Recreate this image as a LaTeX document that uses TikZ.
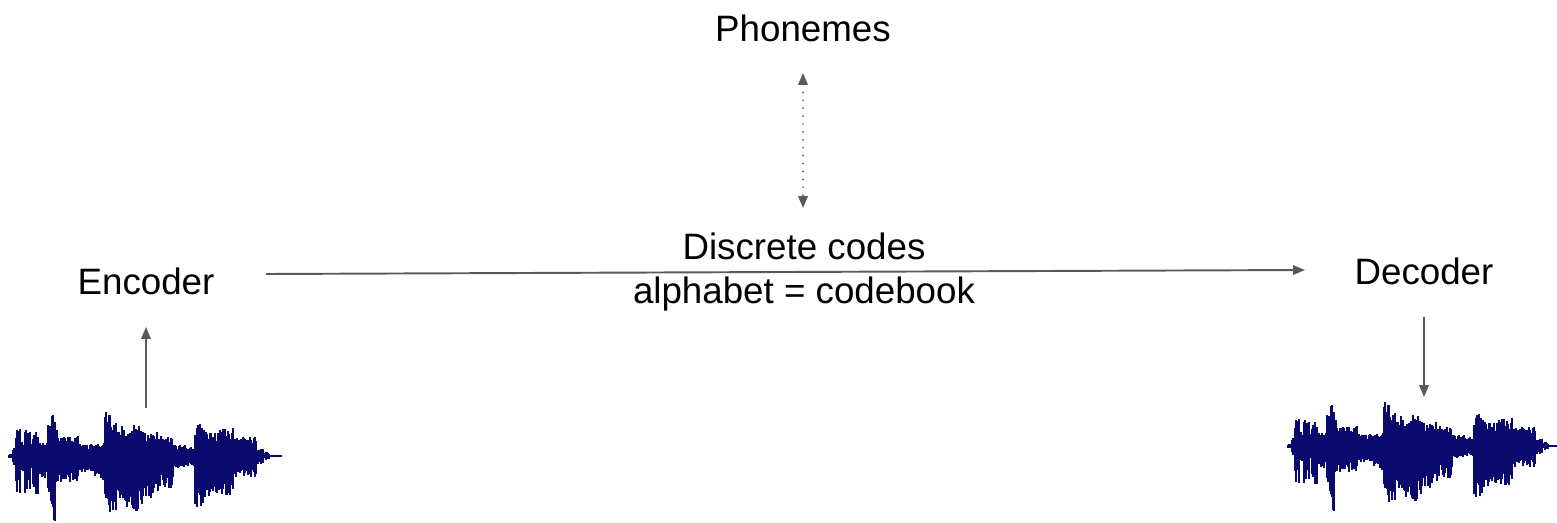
\documentclass[tikz,border=0pt]{standalone}
\usepackage{fontspec}
\setmainfont{Liberation Sans}
\usetikzlibrary{arrows.meta}
\definecolor{arrowgray}{RGB}{90,90,90}
\definecolor{wavenavy}{RGB}{10,10,110}
\tikzset{
  lbl/.style={font=\fontsize{20.9}{25.1}\selectfont, text=black, inner sep=0pt, align=center},
  conn/.style={draw=arrowgray, line width=1.1pt, -{Triangle[length=6.8pt,width=5.4pt]}},
  dotconn/.style={draw=arrowgray, line width=1.1pt, line cap=round, dash pattern=on 0pt off 4.5pt,
     {Triangle[length=6.8pt,width=5.4pt]}-{Triangle[length=6.8pt,width=5.4pt]}},
  wavecol/.style={draw=wavenavy, line width=0.8pt},
  waveform/.pic={
    \pgfmathsetseed{7}
    \draw[wavenavy, line width=0.8pt] (0,0) -- (272,0);
    \foreach \a/\b/\u/\d in {0/4/2/2,4/7/9/10,7/11/28/37,11/16/15/15,16/21/26/39,21/24/12/15,
        24/29/28/40,29/39/15/22,39/43/32/48,43/46/41/66,46/49/27/38,49/69/20/27,69/71/10/10,
        71/86/12/16,86/96/14/27,96/101/44/58,101/107/38/60,107/134/32/58,134/150/24/42,
        150/164/20/32,164/177/11/13,177/186/9/11,186/194/36/52,194/224/28/42,224/247/19/22,
        247/254/7/8,254/260/4/4,260/272/1/1}{
      \foreach \x in {\a,...,\b}{
        \draw[wavecol] (\x,{-\u*(0.55+0.45*rnd)}) -- (\x,{\d*(0.55+0.45*rnd)});
      }
    }
  }
}
\begin{document}
\begin{tikzpicture}[x=0.02cm,y=-0.02cm]
\useasboundingbox (0,0) rectangle (1557,523);
\node[lbl] (phon) at (803,28) {Phonemes};
\node[lbl] (codes) at (804,272) {Discrete codes\\alphabet = codebook};
\node[lbl] (enc) at (146,281) {Encoder};
\node[lbl] (dec) at (1424,271) {Decoder};
\pic (wavein) at (9,456) {waveform};
\pic (waveout) at (1288,446) {waveform};
\coordinate (wl) at (146,408);
\coordinate (wr) at (1424,397);
\coordinate (h1) at (266,274);
\coordinate (h2) at (1305,270);
\coordinate (p1) at (803,73);
\coordinate (p2) at (803,208);
\draw[conn] (wl) -- (enc.south |- 0,327);
\draw[conn] (dec.south |- 0,317) -- (wr);
\draw[conn] (h1) -- (h2);
\draw[dotconn] (p1) -- (p2);
\end{tikzpicture}
\end{document}
